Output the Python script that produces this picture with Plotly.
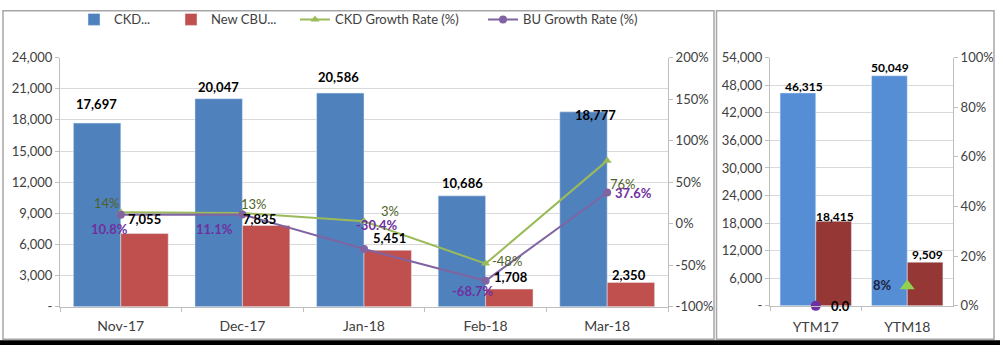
import plotly.graph_objects as go

# ---------------- data ----------------
months = ["Nov-17", "Dec-17", "Jan-18", "Feb-18", "Mar-18"]
ckd_units = [17697, 20047, 20586, 10686, 18777]
cbu_units = [7055, 7835, 5451, 1708, 2350]
ckd_growth = [0.14, 0.13, 0.03, -0.48, 0.76]
bu_growth = [0.108, 0.111, -0.304, -0.687, 0.376]
ckd_growth_labels = ["14%", "13%", "3%", "-48%", "76%"]
bu_growth_labels = ["10.8%", "11.1%", "-30.4%", "-68.7%", "37.6%"]

ytm = ["YTM17", "YTM18"]
ytm_ckd = [46315, 50049]
ytm_cbu = [18415, 9509]
ytm_bu_growth = [0.0, None]
ytm_ckd_growth = [None, 0.08]
ytm_bu_growth_labels = ["0.0", ""]
ytm_ckd_growth_labels = ["", "8%"]

left_ticks = [0, 3000, 6000, 9000, 12000, 15000, 18000, 21000, 24000]
left_ticktext = ["-", "3,000", "6,000", "9,000", "12,000", "15,000", "18,000", "21,000", "24,000"]
pct_ticks = [-1.0, -0.5, 0.0, 0.5, 1.0, 1.5, 2.0]
pct_ticktext = ["-100%", "-50%", "0%", "50%", "100%", "150%", "200%"]
right_ticks = [0, 6000, 12000, 18000, 24000, 30000, 36000, 42000, 48000, 54000]
right_ticktext = ["-", "6,000", "12,000", "18,000", "24,000", "30,000", "36,000", "42,000", "48,000", "54,000"]
ytm_pct_ticks = [0.0, 0.2, 0.4, 0.6, 0.8, 1.0]
ytm_pct_ticktext = ["0%", "20%", "40%", "60%", "80%", "100%"]

# label nudges (pixels) - styling only
ckd_lbl_dx = [-1, 0, -2, 0, 12]
ckd_lbl_dy = [19, 12, 16, 13, -3]
cbu_lbl_dx = [0, -6, 2, 2, -2]
cbu_lbl_dy = [15, 6, 12, 12, 7]
g_lbl_dx = [-14, 12, 26, 21, 16]
g_lbl_dy = [9, 9, 10, 3, -23]
p_lbl_dx = [-11, -28, 13, -13, 26]
p_lbl_dy = [-14, -14, 24, -10, 0]
ytm_ckd_dx = [6, 1]
ytm_ckd_dy = [6, 8]
ytm_cbu_dx = [1, 2]
ytm_cbu_dy = [5, 8]

W, H = 1000, 353
def px(x):
    return x / W
def py(y):
    return 1 - y / H

FONT = "Lato"
BLUE, RED, GREEN, PURPLE = "#4F81BD", "#C0504D", "#9BBB59", "#8064A2"
BLUE2, RED2 = "#558ED5", "#953735"
TICKC = "#404040"
GRID = "#D9D9D9"

fig = go.Figure()

# left panel
fig.add_trace(go.Bar(x=months, y=ckd_units, name="CKD...", marker_color=BLUE,
                     xaxis="x", yaxis="y", legend="legend"))
fig.add_trace(go.Bar(x=months, y=cbu_units, name="New CBU...", marker_color=RED,
                     xaxis="x", yaxis="y", legend="legend2"))
fig.add_trace(go.Scatter(x=months, y=ckd_growth, name="CKD Growth Rate (%)", mode="lines+markers",
                         line=dict(color=GREEN, width=2),
                         marker=dict(symbol="triangle-up", size=8, color=GREEN),
                         xaxis="x", yaxis="y2", legend="legend3"))
fig.add_trace(go.Scatter(x=months, y=bu_growth, name="BU Growth Rate (%)", mode="lines+markers",
                         line=dict(color=PURPLE, width=2),
                         marker=dict(symbol="circle", size=8, color=PURPLE),
                         xaxis="x", yaxis="y2", legend="legend4"))

# right panel
fig.add_trace(go.Bar(x=ytm, y=ytm_ckd, marker_color=BLUE2, showlegend=False,
                     xaxis="x3", yaxis="y3"))
fig.add_trace(go.Bar(x=ytm, y=ytm_cbu, marker_color=RED2, showlegend=False,
                     xaxis="x3", yaxis="y3"))
fig.add_trace(go.Scatter(x=ytm, y=ytm_bu_growth, mode="markers", showlegend=False,
                         marker=dict(symbol="circle", size=10, color="#7030A0"),
                         xaxis="x3", yaxis="y4", cliponaxis=False))
fig.add_trace(go.Scatter(x=ytm, y=ytm_ckd_growth, mode="markers", showlegend=False,
                         marker=dict(symbol="triangle-up", size=13, color="#92D050"),
                         xaxis="x3", yaxis="y4", cliponaxis=False))

ann = []
bar_font = dict(family=FONT, size=13, color="#000000")
for i, m in enumerate(months):
    ann.append(dict(x=m, y=ckd_units[i], xref="x", yref="y", text=f"<b>{ckd_units[i]:,}</b>",
                    showarrow=False, xshift=-23.5 + ckd_lbl_dx[i], yshift=ckd_lbl_dy[i],
                    font=bar_font))
    ann.append(dict(x=m, y=cbu_units[i], xref="x", yref="y", text=f"<b>{cbu_units[i]:,}</b>",
                    showarrow=False, xshift=23.5 + cbu_lbl_dx[i], yshift=cbu_lbl_dy[i],
                    font=bar_font))
    ann.append(dict(x=m, y=ckd_growth[i], xref="x", yref="y2", text=ckd_growth_labels[i],
                    showarrow=False, xshift=g_lbl_dx[i], yshift=g_lbl_dy[i],
                    font=dict(family=FONT, size=13, color="#4F6228")))
    ann.append(dict(x=m, y=bu_growth[i], xref="x", yref="y2", text=f"<b>{bu_growth_labels[i]}</b>",
                    showarrow=False, xshift=p_lbl_dx[i], yshift=p_lbl_dy[i],
                    font=dict(family=FONT, size=13, color="#7030A0")))
for i, c in enumerate(ytm):
    ann.append(dict(x=c, y=ytm_ckd[i], xref="x3", yref="y3", text=f"<b>{ytm_ckd[i]:,}</b>",
                    showarrow=False, xshift=-18 + ytm_ckd_dx[i], yshift=ytm_ckd_dy[i],
                    font=dict(family=FONT, size=12, color="#000000")))
    ann.append(dict(x=c, y=ytm_cbu[i], xref="x3", yref="y3", text=f"<b>{ytm_cbu[i]:,}</b>",
                    showarrow=False, xshift=18 + ytm_cbu_dx[i], yshift=ytm_cbu_dy[i],
                    font=dict(family=FONT, size=12, color="#000000")))
    if ytm_bu_growth[i] is not None:
        ann.append(dict(x=c, y=ytm_bu_growth[i], xref="x3", yref="y4",
                        text=f"<b>{ytm_bu_growth_labels[i]}</b>", showarrow=False,
                        xshift=25, yshift=0, font=dict(family=FONT, size=13, color="#000000")))
    if ytm_ckd_growth[i] is not None:
        ann.append(dict(x=c, y=ytm_ckd_growth[i], xref="x3", yref="y4",
                        text=f"<b>{ytm_ckd_growth_labels[i]}</b>", showarrow=False,
                        xshift=-25, yshift=1, font=dict(family=FONT, size=13, color="#1F1F3F")))

shapes = [
    dict(type="rect", xref="paper", yref="paper", x0=px(3), x1=px(714), y0=py(347), y1=py(3),
         line=dict(color="#A6A6A6", width=1.5)),
    dict(type="rect", xref="paper", yref="paper", x0=px(716.5), x1=px(994), y0=py(347), y1=py(3),
         line=dict(color="#A6A6A6", width=1.5)),
    dict(type="rect", xref="paper", yref="paper", x0=0, x1=1, y0=0, y1=py(348),
         fillcolor="#000000", line=dict(width=0)),
]

tickfont = dict(family=FONT, size=13, color=TICKC)
axcommon = dict(showline=True, linecolor="#BFBFBF", linewidth=1, ticks="outside",
                tickcolor="#BFBFBF", ticklen=4, tickfont=tickfont)
xtickfont = dict(family=FONT, size=14, color=TICKC)

leg_common = dict(orientation="h", yanchor="middle", xanchor="left", bgcolor="rgba(0,0,0,0)",
                  font=dict(family=FONT, size=13, color=TICKC), itemwidth=30)
fig.update_layout(
    width=W, height=H, margin=dict(l=0, r=0, t=0, b=0),
    paper_bgcolor="white", plot_bgcolor="white",
    barmode="group", bargap=0.22, bargroupgap=0,
    font=dict(family=FONT),
    showlegend=True,
    legend=dict(x=px(74), y=py(12), **leg_common),
    legend2=dict(x=px(171), y=py(12), **leg_common),
    legend3=dict(x=px(295), y=py(12), **leg_common),
    legend4=dict(x=px(483), y=py(12), **leg_common),
    xaxis=dict(domain=[px(60), px(668)], anchor="y", type="category", tickson="boundaries",
               ticklabelstandoff=6, **{**axcommon, "tickfont": xtickfont}),
    yaxis=dict(domain=[py(313), py(52)], anchor="x", range=[0, 24000], tickvals=left_ticks,
               ticktext=left_ticktext, showgrid=True, gridcolor=GRID, zeroline=False, **axcommon),
    yaxis2=dict(overlaying="y", side="right", anchor="x", range=[-1, 2], tickvals=pct_ticks,
                ticktext=pct_ticktext, showgrid=False, zeroline=False, **axcommon),
    xaxis3=dict(domain=[px(770), px(953)], anchor="y3", type="category", tickson="boundaries",
                ticklabelstandoff=8, **{**axcommon, "tickfont": xtickfont}),
    yaxis3=dict(domain=[py(312), py(52)], anchor="x3", range=[0, 54000], tickvals=right_ticks,
                ticktext=right_ticktext, showgrid=True, gridcolor=GRID, zeroline=False, **axcommon),
    yaxis4=dict(overlaying="y3", side="right", anchor="x3", range=[0, 1], tickvals=ytm_pct_ticks,
                ticktext=ytm_pct_ticktext, showgrid=False, zeroline=False, **axcommon),
    annotations=ann,
    shapes=shapes,
)

fig.write_html("out.html")
